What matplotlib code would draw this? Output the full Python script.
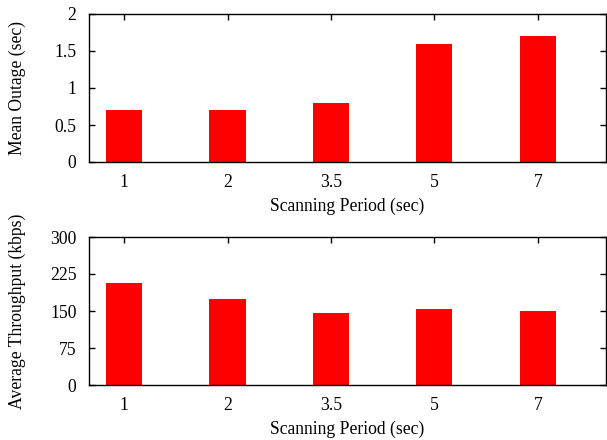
import numpy as np
import matplotlib.pyplot as plt

plt.rcParams['font.family'] = ['Liberation Serif', 'DejaVu Serif']
plt.rcParams['font.size'] = 12.7

periods = ['1', '2', '3.5', '5', '7']
mean_outage = [0.7, 0.7, 0.8, 1.6, 1.7]
avg_throughput = [206, 174, 145, 155, 150]

fig = plt.figure(figsize=(6.07, 4.40), dpi=100)
ax1 = fig.add_axes([89 / 607, 1 - 162 / 440, 517 / 607, 148 / 440])
ax2 = fig.add_axes([89 / 607, 1 - 385 / 440, 517 / 607, 148 / 440])

x = np.arange(len(periods))


def style(ax, values, yticks, ylabel):
    ax.bar(x, values, width=0.35, color='#ff0000', edgecolor='none')
    ax.set_xlim(-0.34, 4.66)
    ax.set_ylim(yticks[0], yticks[-1])
    ax.set_xticks(x)
    ax.set_xticklabels(periods)
    ax.set_yticks(yticks)
    ax.tick_params(direction='in', length=4, width=1, top=True, right=True,
                   bottom=False, pad=9)
    ax.tick_params(axis='x', pad=8.5)
    for s in ax.spines.values():
        s.set_linewidth(1)
    ax.set_xlabel('Scanning Period (sec)', labelpad=5)
    ax.set_ylabel(ylabel)
    ax.yaxis.set_label_coords(-0.122, 0.5)


style(ax1, mean_outage, [0, 0.5, 1, 1.5, 2], 'Mean Outage (sec)')
ax1.set_yticklabels(['0', '0.5', '1', '1.5', '2'])
style(ax2, avg_throughput, [0, 75, 150, 225, 300], 'Average Throughput (kbps)')

fig.savefig('out.png', dpi=100)
